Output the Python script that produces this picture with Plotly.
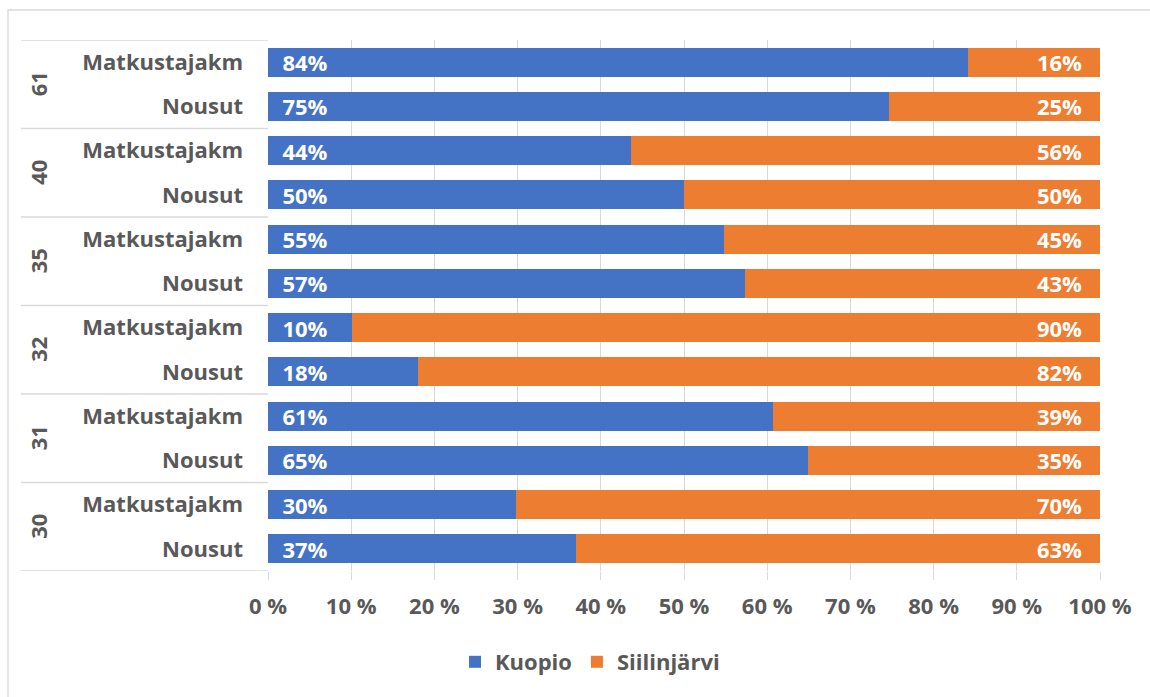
import plotly.graph_objects as go

groups = ["61", "40", "35", "32", "31", "30"]
measures = ["Matkustajakm", "Nousut"]
kuopio = [84.1, 74.6, 43.6, 50.0, 54.8, 57.3, 10.1, 18.0, 60.7, 64.9, 29.8, 37.0]
siilinjarvi = [15.9, 25.4, 56.4, 50.0, 45.2, 42.7, 89.9, 82.0, 39.3, 35.1, 70.2, 63.0]
x_ticks = [0, 10, 20, 30, 40, 50, 60, 70, 80, 90, 100]

BLUE = "#4472C4"
ORANGE = "#ED7D31"
GREY = "#595959"
LINE = "#D9D9D9"
FONT = "Open Sans"
FS = 22

rows = [(g, m) for g in groups for m in measures]
ypos = list(range(len(rows)))
sub_labels = [m for g, m in rows]

PAD_L = "\u00a0\u00a0"
PAD_R = "\u00a0\u00a0\u2009"
fig = go.Figure()
fig.add_trace(go.Bar(
    y=ypos, x=kuopio, orientation="h", name="Kuopio",
    marker=dict(color=BLUE, line=dict(width=0)),
    text=[PAD_L + f"{round(v)}%" for v in kuopio],
    textposition="inside", insidetextanchor="start", constraintext="none",
    textfont=dict(family=FONT, size=FS, color="white", weight="bold"),
    hoverinfo="skip",
))
fig.add_trace(go.Bar(
    y=ypos, x=siilinjarvi, orientation="h", name="Siilinjärvi",
    marker=dict(color=ORANGE, line=dict(width=0)),
    text=[f"{round(v)}%" + PAD_R for v in siilinjarvi],
    textposition="inside", insidetextanchor="end", constraintext="none",
    textfont=dict(family=FONT, size=FS, color="white", weight="bold"),
    hoverinfo="skip",
))

L, R, T, B = 268, 50, 40, 126
W, H = 1150, 697
pw = W - L - R
ph = H - T - B

def px_x(px):
    return (px - L) / pw

def px_y(py):
    return (H - B - py) / ph

shapes = []
n_per = len(measures)
for gi in range(len(groups) + 1):
    yb = gi * n_per - 0.5
    shapes.append(dict(type="line", xref="paper", yref="y",
                       x0=px_x(21), x1=0, y0=yb, y1=yb,
                       line=dict(color=LINE, width=1.3)))
shapes.append(dict(type="rect", xref="paper", yref="paper",
                   x0=px_x(8), x1=px_x(1160), y0=px_y(10), y1=px_y(710),
                   line=dict(color=LINE, width=1.3), fillcolor="rgba(0,0,0,0)", layer="below"))

annotations = []
for gi, g in enumerate(groups):
    annotations.append(dict(
        xref="paper", yref="y", x=px_x(38), y=gi * n_per + (n_per - 1) / 2,
        text=g, textangle=-90, showarrow=False,
        font=dict(family=FONT, size=FS, color=GREY, weight="bold"),
        xanchor="center", yanchor="middle"))

fig.update_layout(
    width=W, height=H,
    margin=dict(l=L, r=R, t=T, b=B),
    barmode="stack", bargap=0.34,
    plot_bgcolor="white", paper_bgcolor="white",
    showlegend=True,
    legend=dict(orientation="h", x=px_x(590), xanchor="center",
                y=px_y(662), yanchor="middle",
                font=dict(family=FONT, size=FS, color=GREY, weight="bold"),
                itemwidth=30, traceorder="normal"),
    shapes=shapes, annotations=annotations,
    xaxis=dict(range=[0, 100], tickvals=x_ticks,
               ticktext=[f"{v} %" for v in x_ticks],
               showgrid=True, gridcolor=LINE, gridwidth=1.3,
               zeroline=False, showline=False,
               ticks="outside", ticklen=8, tickcolor=LINE, tickwidth=1.3,
               ticklabelstandoff=8,
               tickfont=dict(family=FONT, size=FS, color=GREY, weight="bold"),
               fixedrange=True),
    yaxis=dict(range=[len(rows) - 0.5, -0.5], tickvals=ypos, ticktext=sub_labels,
               showgrid=False, zeroline=False, showline=False,
               ticks="", ticklabelstandoff=24,
               tickfont=dict(family=FONT, size=FS, color=GREY, weight="bold"),
               fixedrange=True),
)

fig.write_html("out.html")
